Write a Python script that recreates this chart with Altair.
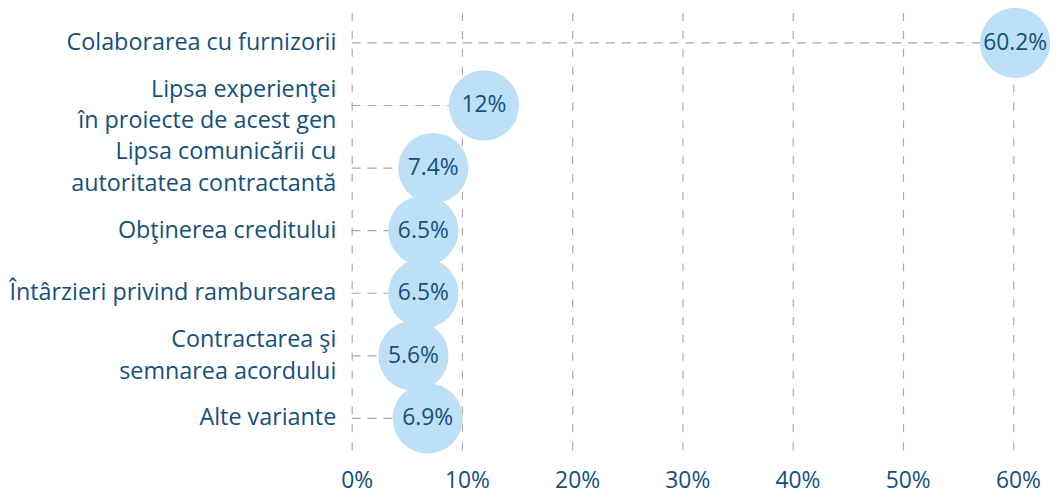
import altair as alt
import pandas as pd

categories = [
    "Colaborarea cu furnizorii",
    "Lipsa experienței în proiecte de acest gen",
    "Lipsa comunicării cu autoritatea contractantă",
    "Obținerea creditului",
    "Întârzieri privind rambursarea",
    "Contractarea și semnarea acordului",
    "Alte variante",
]
label_lines = [
    ["Colaborarea cu furnizorii"],
    ["Lipsa experienţei", "în proiecte de acest gen"],
    ["Lipsa comunicării cu", "autoritatea contractantă"],
    ["Obţinerea creditului"],
    ["Întârzieri privind rambursarea"],
    ["Contractarea şi", "semnarea acordului"],
    ["Alte variante"],
]
values = [60.2, 12, 7.4, 6.5, 6.5, 5.6, 6.9]
value_labels = ["60.2%", "12%", "7.4%", "6.5%", "6.5%", "5.6%", "6.9%"]
x_ticks = [0, 10, 20, 30, 40, 50, 60]

df = pd.DataFrame({
    "cat": categories,
    "value": values,
    "label": value_labels,
    "zero": [0] * len(values),
})

label_expr = "{" + ", ".join(
    f"'{c}': [{', '.join(repr(l) for l in lines)}]" for c, lines in zip(categories, label_lines)
) + "}[datum.value]"

BLUE = "#14507c"
FONT = "Open Sans"

y_enc = alt.Y(
    "cat:N",
    sort=categories,
    scale=alt.Scale(paddingInner=0, paddingOuter=0),
    axis=alt.Axis(
        title=None,
        domain=False,
        ticks=False,
        labelExpr=label_expr,
        labelFont=FONT,
        labelFontSize=23.5,
        labelColor=BLUE,
        labelPadding=16,
        labelLineHeight=32,
        labelLimit=400,
        labelOffset={"condition": {"test": "test(/^(Lipsa|Contractarea)/, datum.value)", "value": -16}, "value": 0},
    ),
)
x_scale = alt.Scale(domain=[0, 63], nice=False, zero=True)

base = alt.Chart(df)

rules = base.mark_rule(color="#a8a8a8", strokeDash=[9, 7], strokeWidth=1.2).encode(
    x=alt.X(
        "zero:Q",
        scale=x_scale,
        axis=alt.Axis(
            values=x_ticks,
            format=".0f",
            labelExpr="datum.value + '%'",
            title=None,
            domain=False,
            ticks=False,
            grid=True,
            gridColor="#ababab",
            gridDash=[8, 10],
            gridWidth=1.2,
            labelFont=FONT,
            labelFontSize=23,
            labelColor=BLUE,
            labelPadding=20,
            labelFlush=False,
            labelOffset=5,
        ),
    ),
    x2="value:Q",
    y=y_enc,
)

circles = base.mark_circle(color="#bde0f7", opacity=1, size=5000).encode(
    x=alt.X("value:Q", scale=x_scale),
    y=alt.Y("cat:N", sort=categories),
)

texts = base.mark_text(font=FONT, fontSize=23, color=BLUE, align="center", baseline="middle").encode(
    x=alt.X("value:Q", scale=x_scale),
    y=alt.Y("cat:N", sort=categories),
    text="label:N",
)

chart = (
    alt.layer(rules, circles, texts)
    .properties(
        width=699,
        height=441,
        autosize=alt.AutoSizeParams(type="none"),
        padding={"left": 346, "top": 2, "right": 4, "bottom": 46},
        background="white",
    )
    .configure_view(stroke=None)
)

chart.save("out.html", embed_options={"renderer": "svg", "actions": False})
